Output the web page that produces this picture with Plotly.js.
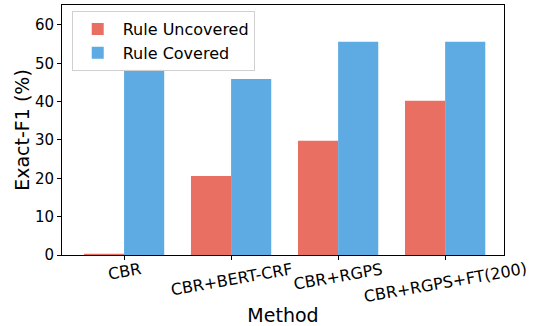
<!DOCTYPE html>
<html><head><meta charset="utf-8">
<script src="https://cdn.plot.ly/plotly-3.0.1.min.js"></script>
<style>html,body{margin:0;padding:0;background:#fff}#c{width:537px;height:326px}</style>
</head><body><div id="c"></div>
<script>
const methods = ["CBR", "CBR+BERT-CRF", "CBR+RGPS", "CBR+RGPS+FT(200)"];
const ruleUncovered = [0.3, 20.6, 29.8, 40.2];
const ruleCovered = [48.3, 45.9, 55.6, 55.6];
const seriesNames = ["Rule Uncovered", "Rule Covered"];
const colors = ["#EA6F63", "#5DABE2"];

const data = [
  {type: "bar", x: methods, y: ruleUncovered, name: seriesNames[0], marker: {color: colors[0]}},
  {type: "bar", x: methods, y: ruleCovered, name: seriesNames[1], marker: {color: colors[1]}}
];
const tickLabels = methods.map(m => ({
  x: m, xref: "x", y: 0, yref: "paper", yshift: -2,
  xanchor: "center", yanchor: "top", textangle: -10, showarrow: false,
  text: m, font: {family: "DejaVu Sans", size: 16, color: "#000"}
}));
const layout = {
  width: 537, height: 326,
  margin: {l: 62, r: 33, t: 5, b: 71},
  barmode: "group", bargap: 0.25, bargroupgap: 0,
  font: {family: "DejaVu Sans", color: "#000"},
  plot_bgcolor: "#fff", paper_bgcolor: "#fff",
  showlegend: true,
  legend: {x: 0.022, y: 0.976, xanchor: "left", yanchor: "top", bgcolor: "rgba(255,255,255,0.8)", bordercolor: "#d0d0d0", borderwidth: 1, font: {family: "DejaVu Sans", size: 16}, itemwidth: 40},
  annotations: tickLabels,
  xaxis: {
    range: [-0.58, 3.55], showline: true, linecolor: "#000", linewidth: 1, mirror: true,
    ticks: "outside", ticklen: 4, tickcolor: "#000", showticklabels: false,
    showgrid: false, automargin: false,
    title: {text: "Method", font: {family: "DejaVu Sans", size: 19}, standoff: 52}
  },
  yaxis: {
    range: [0, 65.2], showline: true, linecolor: "#000", linewidth: 1, mirror: true,
    ticks: "outside", ticklen: 4, tickcolor: "#000", dtick: 10,
    tickfont: {family: "DejaVu Sans", size: 15}, showgrid: false, zeroline: false, automargin: false,
    title: {text: "Exact-F1 (%)", font: {family: "DejaVu Sans", size: 19}, standoff: 0}
  }
};
Plotly.newPlot("c", data, layout, {displayModeBar: false, staticPlot: true});
</script></body></html>
